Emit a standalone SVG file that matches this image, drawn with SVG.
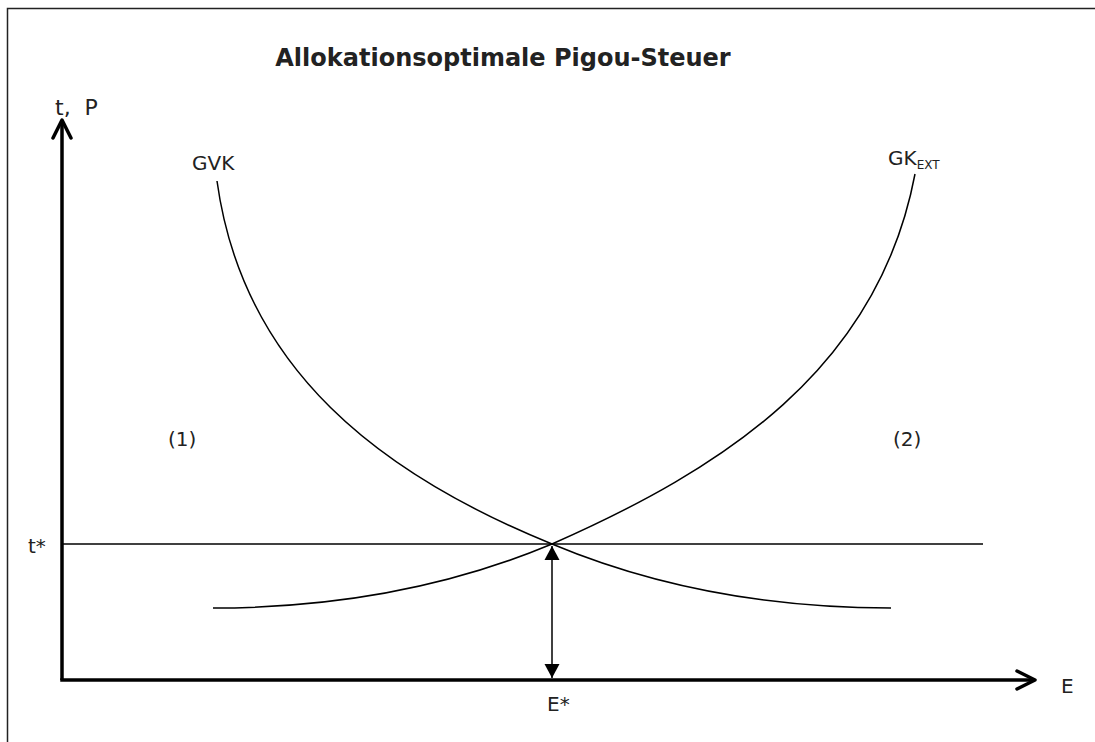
<svg xmlns="http://www.w3.org/2000/svg" width="1095" height="742" viewBox="0 0 1095 742">
<defs>
<style>
text{font-family:"DejaVu Sans",Verdana,sans-serif;fill:#222;font-size:20px}
.curve{fill:none;stroke:#000;stroke-width:1.5}
.axis{fill:none;stroke:#000;stroke-width:3.5}
</style>
<marker id="open" viewBox="0 0 24 24" refX="20" refY="12" markerWidth="24" markerHeight="24" markerUnits="userSpaceOnUse" orient="auto">
<path d="M2,3 L20,12 L2,21" fill="none" stroke="#000" stroke-width="3.5" stroke-linecap="round" stroke-linejoin="round"/>
</marker>
<marker id="fill" viewBox="0 0 14 16" refX="14" refY="8" markerWidth="14" markerHeight="16" markerUnits="userSpaceOnUse" orient="auto-start-reverse">
<path d="M0,0.5 L14,8 L0,15.5 Z" fill="#000"/>
</marker>
</defs>
<rect x="0" y="0" width="1095" height="742" fill="#fff"/>
<path d="M7.5,750 V8.5 H1100" fill="none" stroke="#222" stroke-width="1.5"/>
<g id="title"><text x="503" y="66" font-weight="bold" text-anchor="middle" fill="#111" style="font-size:24px">Allokationsoptimale Pigou-Steuer</text></g>
<g id="connectors">
<path class="axis" d="M62,680 V120" marker-end="url(#open)"/>
<path class="axis" d="M60.25,680 H1035" marker-end="url(#open)"/>
<path d="M62,544 H983" fill="none" stroke="#000" stroke-width="1.5"/>
<path d="M552,546 V678" fill="none" stroke="#000" stroke-width="1.5" marker-start="url(#fill)" marker-end="url(#fill)"/>
</g>
<g id="GVK">
<path class="curve" d="M217,181 C243,370 382,475 552,544 C662,590 780,608 891,608"/>
<text x="192" y="170">GVK</text>
</g>
<g id="GKEXT">
<path class="curve" d="M213,608 C324,608 442,590 552,544 C722,469 878,370 915,174"/>
<text x="888" y="165">GK<tspan style="font-size:12px" dy="4">EXT</tspan></text>
</g>
<g id="labels">
<text x="55" y="115" style="font-size:22px;white-space:pre" xml:space="preserve">t,  P</text>
<text x="168" y="446">(1)</text>
<text x="893" y="446">(2)</text>
<text x="28" y="553">t*</text>
<text x="547" y="711">E*</text>
<text x="1061" y="693">E</text>
</g>
</svg>
